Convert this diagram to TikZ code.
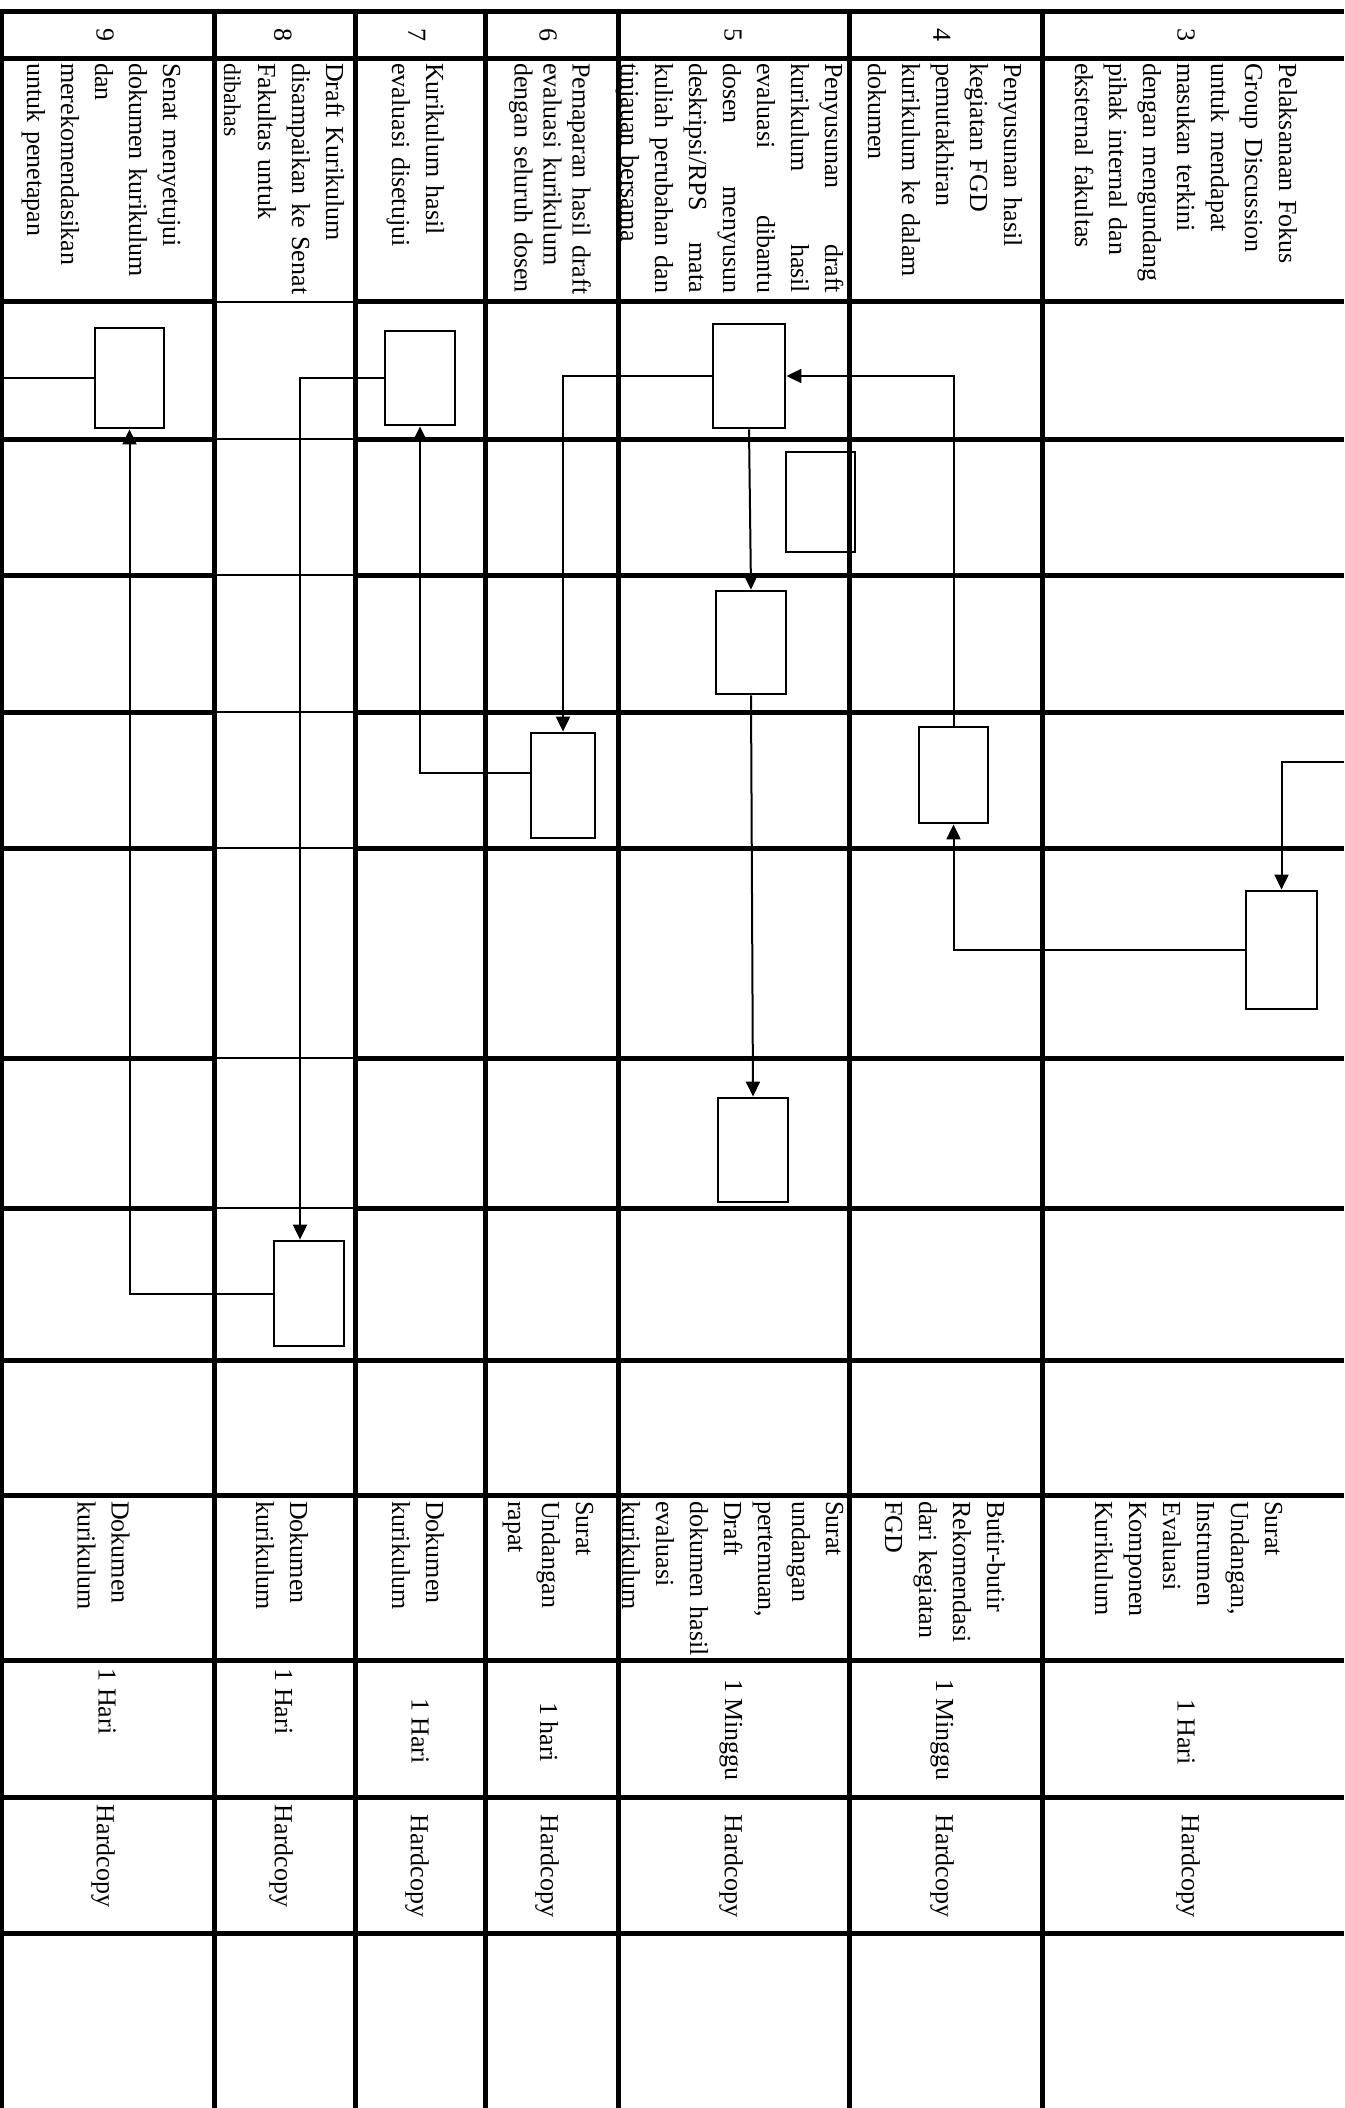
\documentclass[tikz,border=0pt]{standalone}
\usepackage{fontspec}
\setmainfont{Liberation Serif}
\usepackage{tikz}
\usetikzlibrary{arrows.meta}
\newcommand{\cellfont}{\fontsize{26pt}{34pt}\selectfont}
\tikzset{
  rule/.style={line width=5pt},
  rulethin/.style={line width=2.2pt},
  actbox/.style={draw, line width=2.8pt, inner sep=0pt,
                 minimum width=70pt, minimum height=104pt},
  arr/.style={-{Triangle[length=15pt,width=14pt]}, line width=2pt},
  conn/.style={line width=2pt},
  dtxt/.style={rotate=-90, anchor=north west, inner sep=0pt, align=left,
               text width=250pt, font=\cellfont},
  ctxt/.style={rotate=-90, inner sep=0pt, font=\cellfont},
}

\begin{document}
\begin{tikzpicture}[x=1pt,y=-1pt]
\useasboundingbox (0,0) rectangle (1344,2108);
% table rules
\draw[rule] (0,12) -- (1344,12) (0,59) -- (1344,59)
  (0,1360) -- (1344,1360) (0,1495) -- (1344,1495) (0,1660) -- (1344,1660)
  (0,1797) -- (1344,1797) (0,1933) -- (1344,1933);
\draw[rule] (0,302) -- (214,302) (355,302) -- (1344,302)
  (0,439) -- (214,439) (355,439) -- (1344,439)
  (0,575) -- (214,575) (355,575) -- (1344,575)
  (0,712) -- (214,712) (355,712) -- (1344,712)
  (0,848) -- (214,848) (355,848) -- (1344,848)
  (0,1058) -- (214,1058) (355,1058) -- (1344,1058)
  (0,1208) -- (214,1208) (355,1208) -- (1344,1208);
\draw[rulethin] (214,302) -- (355,302) (214,439) -- (355,439)
  (214,575) -- (355,575) (214,712) -- (355,712) (214,848) -- (355,848)
  (214,1058) -- (355,1058) (214,1208) -- (355,1208);
\draw[rule] (1,12) -- (1,2108) (214.5,12) -- (214.5,2108) (355,12) -- (355,2108)
  (485,12) -- (485,2108) (618,12) -- (618,2108) (849,12) -- (849,2108)
  (1042,12) -- (1042,2108);

% nomor
\node[ctxt] (no3) at (1186,35) {3};
\node[ctxt] (no4) at (942,35) {4};
\node[ctxt] (no5) at (733,35) {5};
\node[ctxt] (no6) at (548,35) {6};
\node[ctxt] (no7) at (417,35) {7};
\node[ctxt] (no8) at (283,35) {8};
\node[ctxt] (no9) at (105,35) {9};

% kegiatan
\node[dtxt] (ds3) at (1303,63) {\strut Pelaksanaan Fokus\\Group Discussion\\untuk mendapat\\masukan terkini\\dengan mengundang\\pihak internal dan\\eksternal fakultas};
\node[dtxt] (ds4) at (1028,63) {\strut Penyusunan hasil\\kegiatan FGD\\pemutakhiran\\kurikulum ke dalam\\dokumen};
\node[dtxt, text width=230pt] (ds5) at (849,63) {\strut Penyusunan\hfill draft\\kurikulum\hfill hasil\\evaluasi\hfill dibantu\\dosen\hfill menyusun\\deskripsi/RPS\hfill mata\\kuliah\hfill perubahan\hfill dan\\tinjauan bersama};
\node[dtxt, font=\fontsize{26pt}{29pt}\selectfont] (ds6) at (593,63) {\strut Pemaparan hasil draft\\evaluasi kurikulum\\dengan seluruh dosen};
\node[dtxt] (ds7) at (450,63) {\strut Kurikulum hasil\\evaluasi disetujui};
\node[dtxt] (ds8) at (350,63) {\strut Draft Kurikulum\\disampaikan ke Senat\\Fakultas untuk\\\fontsize{24pt}{34pt}\selectfont dibahas};
\node[dtxt] (ds9) at (187,63) {\strut Senat menyetujui\\dokumen kurikulum\\dan\\merekomendasikan\\untuk penetapan};

% alur
\node[actbox, minimum width=71pt, minimum height=118pt] (k3) at (1281.5,950) {};
\node[actbox, minimum width=69pt, minimum height=96pt] (k4) at (953.5,775) {};
\node[actbox, minimum width=72pt] (k5a) at (749,376) {};
\node[actbox, minimum width=69pt, minimum height=100pt] (k5b) at (820.5,502) {};
\node[actbox, minimum height=103pt] (k5c) at (751,642.5) {};
\node[actbox] (k5d) at (753,1150) {};
\node[actbox, minimum width=64pt, minimum height=105pt] (k6) at (563,785.5) {};
\node[actbox, minimum height=94pt] (k7) at (420,378) {};
\node[actbox, minimum height=105pt] (k8) at (309,1293.5) {};
\node[actbox, minimum width=69pt, minimum height=100pt] (k9) at (129.5,378) {};
\coordinate (rin) at (1344,762);
\coordinate (lout) at (0,378);
\draw[arr] (rin) -| (k3.north);
\draw[arr] (k3.west) -| (k4.south);
\draw[arr] (k4.north) |- (k5a.east);
\draw[arr] (k5a.west) -| (k6.north);
\draw[arr] (k5a.south) -- (k5c.north);
\draw[arr] (k5c.south) -- (k5d.north);
\draw[arr] ([yshift=13pt]k6.west) -| (k7.south);
\draw[arr] (k7.west) -| ([xshift=-9pt]k8.north);
\draw[arr] (k8.west) -| (k9.south);
\draw[conn] (k9.west) -- (lout);

% kelengkapan
\node[dtxt] (kl3) at (1289,1501) {\strut Surat\\Undangan,\\Instrumen\\Evaluasi\\Komponen\\Kurikulum};
\node[dtxt] (kl4) at (1011,1501) {\strut Butir-butir\\Rekomendasi\\dari kegiatan\\FGD};
\node[dtxt] (kl5) at (850,1501) {\strut Surat\\undangan\\pertemuan,\\Draft\\dokumen hasil\\evaluasi\\kurikulum};
\node[dtxt] (kl6) at (600,1501) {\strut Surat\\Undangan\\rapat};
\node[dtxt] (kl7) at (450,1501) {\strut Dokumen\\kurikulum};
\node[dtxt] (kl8) at (314,1501) {\strut Dokumen\\kurikulum};
\node[dtxt] (kl9) at (135.5,1501) {\strut Dokumen\\kurikulum};

% waktu
\node[ctxt] (wk3) at (1186,1732) {1 Hari};
\node[ctxt] (wk4) at (942,1730) {1 Minggu};
\node[ctxt] (wk5) at (731,1730) {1 Minggu};
\node[ctxt] (wk6) at (549,1732) {1 hari};
\node[ctxt] (wk7) at (420,1731) {1 Hari};
\node[ctxt] (wk8) at (283.5,1701.5) {1 Hari};
\node[ctxt] (wk9) at (107,1701.5) {1 Hari};

% output
\node[ctxt] (op3) at (1188,1866) {Hardcopy};
\node[ctxt] (op4) at (942,1866) {Hardcopy};
\node[ctxt] (op5) at (731,1866) {Hardcopy};
\node[ctxt] (op6) at (547,1866) {Hardcopy};
\node[ctxt] (op7) at (417,1866) {Hardcopy};
\node[ctxt] (op8) at (281,1856) {Hardcopy};
\node[ctxt] (op9) at (103,1856) {Hardcopy};
\end{tikzpicture}
\end{document}
